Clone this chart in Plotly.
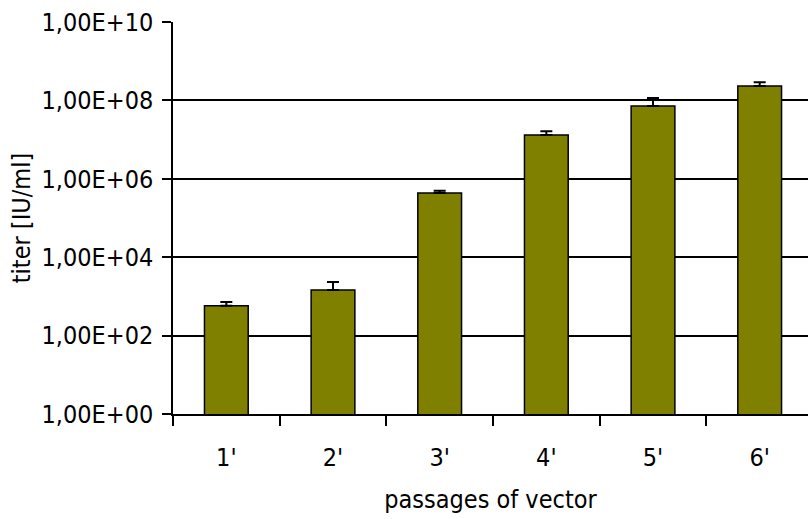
import plotly.graph_objects as go

# Vector titer per passage (IU/ml), with upper error bar ends
passages = ["1'", "2'", "3'", "4'", "5'", "6'"]
titer = [5.8e2, 1.46e3, 4.34e5, 1.31e7, 7.2e7, 2.33e8]
titer_upper = [7.2e2, 2.33e3, 4.97e5, 1.63e7, 1.15e8, 2.9e8]

y_tick_vals = [1e0, 1e2, 1e4, 1e6, 1e8, 1e10]
y_tick_text = ["1,00E+00", "1,00E+02", "1,00E+04", "1,00E+06", "1,00E+08", "1,00E+10"]

err_plus = [u - v for u, v in zip(titer_upper, titer)]

FONT = "DejaVu Sans Condensed, DejaVu Sans"
TXT = dict(family=FONT, size=25, color="black")

fig = go.Figure(
    go.Bar(
        x=list(range(len(passages))),
        y=titer,
        width=0.41,
        marker=dict(color="#808000", line=dict(color="black", width=1.5)),
        error_y=dict(type="data", symmetric=False, array=err_plus,
                     arrayminus=[0] * len(titer), color="black",
                     thickness=2, width=6),
    )
)

fig.update_layout(
    width=808, height=519,
    margin=dict(l=173, r=0, t=22, b=105),
    paper_bgcolor="white", plot_bgcolor="white",
    font=TXT,
    showlegend=False,
)

fig.update_xaxes(
    range=[-0.5, 5.453],
    tickmode="array",
    tickvals=list(range(len(passages))),
    ticktext=passages,
    tickfont=TXT,
    ticklabelstandoff=20,
    showgrid=False,
    showline=True, linecolor="black", linewidth=1.5,
    ticks="",
    title=dict(text="passages of vector", font=TXT, standoff=20),
    # category separator ticks
    minor=dict(tickvals=[i - 0.5 for i in range(len(passages) + 1)],
               ticks="outside", ticklen=10, tickcolor="black", tickwidth=1.5),
)

fig.update_yaxes(
    type="log",
    range=[0, 10],
    tickmode="array",
    tickvals=y_tick_vals,
    ticktext=y_tick_text,
    tickfont=TXT,
    ticklabelstandoff=4,
    showgrid=True, gridcolor="black", gridwidth=1.5,
    showline=True, linecolor="black", linewidth=1.5,
    ticks="outside", ticklen=9, tickcolor="black", tickwidth=1.5,
    zeroline=False,
    title=dict(text="titer [IU/ml]", font=TXT, standoff=4),
)

fig.write_html("out.html")
